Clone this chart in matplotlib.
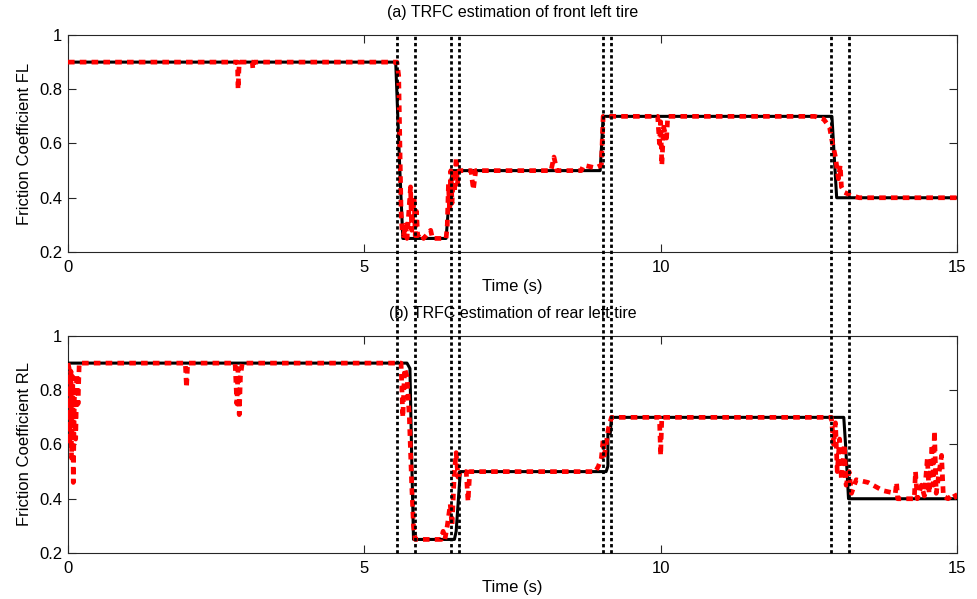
import matplotlib
matplotlib.use('Agg')
import matplotlib.pyplot as plt
from matplotlib.lines import Line2D
from matplotlib.transforms import blended_transform_factory

plt.rcParams['font.family'] = ['Liberation Sans', 'DejaVu Sans']

# reference (true) friction coefficient, front left
fl_ref_t = [0, 5.53, 5.60, 5.65, 6.38, 6.45, 6.49, 8.98, 9.03, 12.89, 12.97, 15]
fl_ref_v = [0.9, 0.9, 0.5, 0.25, 0.25, 0.45, 0.5, 0.5, 0.7, 0.7, 0.4, 0.4]

# estimated TRFC, front left
fl_est_t = [0, 2.86, 2.87, 2.89, 3.11, 3.12, 3.14, 5.55, 5.58, 5.60, 5.62, 5.64, 5.66,
            5.70, 5.72, 5.78, 5.80, 5.84, 5.86, 5.88, 5.90, 5.95, 6.00, 6.12, 6.15,
            6.38, 6.40, 6.42, 6.44, 6.46, 6.48, 6.50, 6.52, 6.55, 6.57, 6.60, 6.80,
            6.84, 6.88, 8.15, 8.20, 8.25, 8.66, 8.70, 8.90, 9.00, 9.03, 9.95, 9.98,
            10.00, 10.02, 10.05, 10.10, 10.12, 12.60, 12.75, 12.85, 12.90, 12.95,
            12.98, 13.00, 13.03, 13.05, 13.10, 13.20, 13.35, 15]
fl_est_v = [0.9, 0.9, 0.8, 0.9, 0.9, 0.875, 0.9, 0.9, 0.85, 0.6, 0.35, 0.27, 0.26,
            0.3, 0.25, 0.44, 0.28, 0.4, 0.26, 0.35, 0.26, 0.27, 0.25, 0.28, 0.25,
            0.25, 0.3, 0.45, 0.35, 0.5, 0.38, 0.48, 0.42, 0.55, 0.45, 0.5, 0.5,
            0.43, 0.5, 0.5, 0.55, 0.5, 0.5, 0.52, 0.51, 0.52, 0.7, 0.7, 0.6,
            0.68, 0.52, 0.66, 0.62, 0.7, 0.7, 0.69, 0.66, 0.6, 0.55,
            0.5, 0.47, 0.52, 0.44, 0.42, 0.41, 0.4, 0.4]

# reference friction coefficient, rear left
rl_ref_t = [0, 5.72, 5.77, 5.80, 5.83, 6.52, 6.55, 6.62, 9.08, 9.11, 9.11, 9.15,
            9.17, 13.09, 13.12, 13.17, 15]
rl_ref_v = [0.9, 0.9, 0.88, 0.55, 0.25, 0.25, 0.28, 0.5, 0.5, 0.52, 0.64, 0.64,
            0.7, 0.7, 0.6, 0.4, 0.4]

# estimated TRFC, rear left
rl_est_t = [0, 0.02, 0.03, 0.05, 0.06, 0.08, 0.09, 0.11, 0.13, 0.15, 0.17, 0.19,
            1.98, 2.00, 2.02, 2.82, 2.85, 2.87, 2.89, 2.91, 2.94, 5.62, 5.65, 5.68,
            5.72, 5.76, 5.80, 5.83, 5.86, 6.30, 6.33, 6.36, 6.40, 6.45, 6.48, 6.52,
            6.55, 6.58, 6.62, 6.72, 6.75, 6.78, 8.90, 8.95, 9.00, 9.03, 9.05, 9.08,
            9.12, 9.17, 9.98, 10.00, 10.02, 12.88, 12.92, 12.95, 12.98, 13.02, 13.05,
            13.10, 13.13, 13.18, 13.22, 13.30, 13.50, 13.75, 13.96, 13.98, 14.00,
            14.28, 14.30, 14.33, 14.40, 14.45, 14.50, 14.53, 14.58, 14.60, 14.62,
            14.65, 14.70, 14.74, 14.77, 14.85, 14.95, 15]
rl_est_v = [0.9, 0.88, 0.6, 0.87, 0.55, 0.85, 0.46, 0.8, 0.62, 0.86, 0.75, 0.9,
            0.9, 0.81, 0.9, 0.9, 0.75, 0.88, 0.71, 0.85, 0.9, 0.9, 0.7, 0.88,
            0.85, 0.7, 0.45, 0.3, 0.25, 0.25, 0.28, 0.25, 0.3, 0.38, 0.3, 0.5,
            0.57, 0.48, 0.5, 0.5, 0.39, 0.5, 0.5, 0.52, 0.55, 0.62, 0.56, 0.6,
            0.66, 0.7, 0.7, 0.56, 0.7, 0.7, 0.6, 0.68, 0.5, 0.62, 0.47,
            0.6, 0.45, 0.5, 0.42, 0.47, 0.46, 0.43, 0.42, 0.46, 0.4,
            0.4, 0.5, 0.4, 0.45, 0.41, 0.55, 0.42, 0.6, 0.45, 0.65,
            0.42, 0.5, 0.56, 0.41, 0.4, 0.42, 0.4]

# road change instants (vertical dotted markers)
event_t = [5.55, 5.86, 6.47, 6.60, 9.02, 9.17, 12.87, 13.17]

fig = plt.figure(figsize=(9.78, 5.99), dpi=100)
ax1 = fig.add_axes([0.0695, 0.5793, 0.909, 0.3623])
ax2 = fig.add_axes([0.0695, 0.0768, 0.909, 0.3623])

panels = [
    (ax1, fl_ref_t, fl_ref_v, fl_est_t, fl_est_v,
     "(a) TRFC estimation of front left tire", "Friction Coefficient FL"),
    (ax2, rl_ref_t, rl_ref_v, rl_est_t, rl_est_v,
     "(b) TRFC estimation of rear left tire", "Friction Coefficient RL"),
]

for ax, rt, rv, et, ev, title, ylab in panels:
    ax.plot(rt, rv, color='black', linewidth=2.2, zorder=3)
    ax.plot(et, ev, color='#ff0000', linewidth=3.4,
            linestyle=(0, (1.4, 1.1)), zorder=4)
    ax.set_xlim(0, 15)
    ax.set_ylim(0.2, 1.0)
    ax.set_xticks([0, 5, 10, 15])
    ax.set_yticks([0.2, 0.4, 0.6, 0.8, 1.0])
    ax.set_yticklabels(['0.2', '0.4', '0.6', '0.8', '1'])
    ax.tick_params(direction='in', length=6, width=0.8, top=True, right=True,
                   labelsize=12, pad=4, colors='#262626', labelcolor='black')
    ax.tick_params(axis='x', pad=6)
    for sp in ax.spines.values():
        sp.set_color('#262626')
        sp.set_linewidth(0.8)
    ax.set_title(title, fontsize=11.5, pad=13)
    ax.set_xlabel("Time (s)", fontsize=12, labelpad=3)
    ax.set_ylabel(ylab, fontsize=12, labelpad=5)

# dotted markers run through both panels
top = 0.5793 + 0.3623
bottom = 0.0768
trans = blended_transform_factory(ax1.transData, fig.transFigure)
for t in event_t:
    fig.add_artist(Line2D([t, t], [bottom, top], transform=trans, color='black',
                          linewidth=2.0, linestyle=(0, (1.2, 1.0)), zorder=5))

fig.savefig('out.png', dpi=100)
